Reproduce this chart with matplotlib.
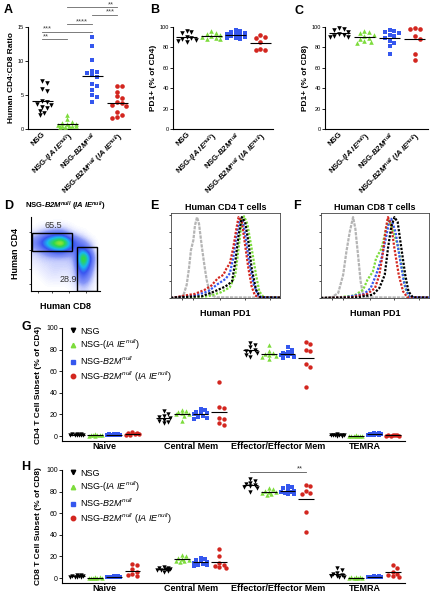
import numpy as np
import matplotlib
matplotlib.use('Agg')
import matplotlib.pyplot as plt
from matplotlib.colors import LinearSegmentedColormap
from matplotlib.patches import Rectangle
from matplotlib.lines import Line2D

plt.rcParams['font.family'] = ['Liberation Sans', 'DejaVu Sans']
plt.rcParams['mathtext.fontset'] = 'custom'
plt.rcParams['mathtext.rm'] = 'Liberation Sans'
plt.rcParams['mathtext.it'] = 'Liberation Sans:italic'
plt.rcParams['mathtext.bf'] = 'Liberation Sans:bold:italic'

W, H = 444, 594

# group names (bold italic for tick labels, plain italic for legends)
tick_names = ['NSG', r'NSG-($\mathbf{IA\ IE^{null}}$)', r'NSG-$\mathbf{B2M^{null}}$',
              r'NSG-$\mathbf{B2M^{null}}$ ($\mathbf{IA\ IE^{null}}$)']
legend_names = ['NSG', r'NSG-($\mathit{IA\ IE^{null}}$)', r'NSG-$\mathit{B2M^{null}}$',
                r'NSG-$\mathit{B2M^{null}}$ ($\mathit{IA\ IE^{null}}$)']
colors = ['black', '#7ddc3c', '#3557ee', '#d3261f']
markers = ['v', '^', 's', 'o']

# panel A: human CD4:CD8 ratio
ratio_nsg = [7.0, 6.7, 5.9, 5.6, 4.1, 3.9, 3.7, 3.5, 3.3, 3.1, 2.7, 2.3, 2.0]
ratio_ia = [2.1, 1.4, 1.1, 0.9, 0.8, 0.7, 0.6, 0.5, 0.5, 0.4, 0.4, 0.3, 0.3]
ratio_b2m = [13.5, 12.2, 10.2, 8.6, 8.4, 8.2, 7.9, 7.6, 6.6, 6.3, 5.8, 5.0, 4.7, 4.0]
ratio_dko = [6.3, 6.3, 5.5, 4.8, 4.6, 3.9, 3.8, 3.6, 3.4, 2.5, 2.1, 1.8, 1.6]
# (group i, group j, label) for significance bars
ratio_sig = [(0, 1, '**'), (0, 2, '***'), (1, 2, '****'), (2, 3, '***'), (1, 3, '**')]

# panel B: PD1+ % of CD4
pd1_cd4_nsg = [96, 95, 94, 90, 89, 88, 87, 86, 85]
pd1_cd4_ia = [96, 94, 93, 92, 91, 90, 89, 88, 88]
pd1_cd4_b2m = [97, 96, 95, 94, 93, 93, 92, 91, 90, 89, 89, 88]
pd1_cd4_dko = [92, 90, 89, 85, 78, 77, 77]

# panel C: PD1+ % of CD8
pd1_cd8_nsg = [99, 98, 97, 95, 93, 92, 91, 90, 90]
pd1_cd8_ia = [96, 95, 94, 92, 91, 89, 88, 86, 85, 84]
pd1_cd8_b2m = [97, 96, 95, 94, 92, 91, 89, 86, 84, 81, 74]
pd1_cd8_dko = [99, 98, 98, 91, 88, 74, 68]

# panel D: flow density (coarse levels, rows from bottom to top, CD8 on x, CD4 on y)
flow_density = [
    [0, 0, 0, 0, 0, 0, 0.2, 0.6, 0.3, 0],
    [0, 0, 0.2, 0.2, 0.2, 0.2, 0.5, 2.0, 0.8, 0],
    [0, 0.2, 0.3, 0.4, 0.3, 0.3, 0.6, 3.5, 1.5, 0],
    [0.2, 0.3, 0.4, 0.5, 0.5, 0.5, 0.7, 6, 2.5, 0],
    [0.3, 0.5, 0.6, 0.6, 0.6, 0.6, 1.0, 8.5, 3.5, 0],
    [0.6, 1.2, 2, 3, 3, 2, 1.8, 3.5, 1.5, 0],
    [1.5, 3, 5.5, 7.5, 9, 5, 2.5, 1.5, 0.6, 0],
    [0.6, 1.2, 2, 2.5, 2.5, 1.2, 0.6, 0.3, 0, 0],
    [0, 0.2, 0.3, 0.4, 0.4, 0.2, 0, 0, 0, 0],
    [0, 0, 0, 0, 0, 0, 0, 0, 0, 0],
]
gate_cd4 = (1, 54, 59, 25)  # x, y, w, h
gate_cd8 = (67, 0, 29, 59)
gate_cd4_pct = '65.5'
gate_cd8_pct = '28.9'

# panels E/F: PD1 histograms (channel %, % of max)
cd4_iso_x = [0, 6.7, 11.3, 14.4, 16.5, 18.3, 20.5, 22, 23.9, 25.7, 28.1, 30.6, 32.7, 34.9, 37.3, 41.9, 100]
cd4_iso_y = [0, 0.8, 3, 16, 36, 58, 70, 88, 98, 90, 64, 40, 22, 10, 3, 0.8, 0.5]
cd4_dko_x = [0, 3.7, 12.8, 22, 31, 37, 43, 48, 51, 54, 57, 60, 62, 65, 68, 71, 74, 77, 82, 100]
cd4_dko_y = [0, 0.8, 3, 5, 10, 15, 24, 28, 36, 42, 60, 84, 98, 92, 64, 36, 14, 3, 0.8, 0.5]
cd4_b2m_x = [0, 4, 22, 34, 43, 50, 54, 57, 60, 63, 66, 69, 72, 76, 80, 83, 100]
cd4_b2m_y = [0, 0.8, 3, 8, 17, 23, 30, 48, 76, 96, 92, 68, 40, 16, 3, 0.8, 0.5]
cd4_nsg_x = [0, 4, 28, 40, 50, 56, 59, 62, 65, 68, 71, 74, 78, 82, 100]
cd4_nsg_y = [0, 0.8, 2, 8, 14, 20, 44, 76, 98, 92, 68, 36, 10, 0.8, 0.5]
cd4_ia_x = [0, 10, 34, 46, 54, 59, 62, 65, 67, 70, 74, 78, 81, 85, 100]
cd4_ia_y = [0, 0.8, 2, 7, 13, 28, 60, 94, 99, 90, 60, 28, 8, 0.8, 0.5]

cd8_iso_x = [0, 9.8, 15.9, 20.5, 23.5, 26.6, 29.7, 31.8, 34.3, 36.7, 38.8, 41.9, 100]
cd8_iso_y = [0, 0.8, 6, 28, 56, 80, 98, 84, 52, 20, 5, 0.8, 0.5]
cd8_ia_x = [0, 16, 31, 39, 43, 48, 51, 56, 59, 62, 63, 66, 71, 75, 78, 82, 100]
cd8_ia_y = [0, 0.8, 3, 10, 22, 32, 48, 60, 76, 92, 94, 84, 64, 36, 12, 0.8, 0.5]
cd8_b2m_x = [0, 22, 40, 46, 51, 56, 60, 63, 65, 69, 73, 77, 81, 83, 100]
cd8_b2m_y = [0, 0.8, 5, 12, 28, 48, 72, 92, 96, 80, 48, 18, 3, 0.8, 0.5]
cd8_dko_x = [0, 28, 43, 50, 54, 57, 60, 62, 65, 68, 72, 76, 80, 100]
cd8_dko_y = [0, 0.8, 5, 12, 28, 52, 84, 98, 88, 60, 28, 8, 0.8, 0.5]
cd8_nsg_x = [0, 34, 48, 54, 59, 62, 65, 68, 71, 74, 78, 81, 85, 100]
cd8_nsg_y = [0, 0.8, 4, 12, 28, 60, 86, 98, 92, 64, 28, 8, 0.8, 0.5]

# panels G/H: T cell subsets
subsets = ['Naive', 'Central Mem', 'Effector/Effector Mem', 'TEMRA']
cd4_nsg = [[2.0, 1.8, 1.5, 1.2, 1.0, 0.9, 0.8, 0.6, 0.5],
           [23, 20, 19, 18, 17, 15, 14, 13, 12],
           [86, 84, 82, 80, 79, 78, 77, 75, 73],
           [1.5, 1.2, 1.0, 0.9, 0.8, 0.6, 0.5, 0.4, 0.3]]
cd4_ia = [[1.5, 1.2, 1.0, 0.8, 0.7, 0.5, 0.4, 0.3],
          [24, 23, 22, 21, 20, 20, 19, 14],
          [84, 79, 77, 76, 75, 74, 73, 71],
          [0.5, 0.4, 0.3, 0.3, 0.2, 0.2, 0.1, 0.1]]
cd4_b2m = [[2.0, 1.8, 1.6, 1.5, 1.3, 1.2, 1.0, 0.9, 0.8, 0.7],
           [25, 24, 22, 21, 21, 20, 19, 18, 17, 16],
           [82, 80, 78, 77, 76, 76, 75, 74, 73, 72],
           [3.0, 2.5, 2.2, 2.0, 1.8, 1.5, 1.2, 1.0, 0.8, 0.6]]
cd4_dko = [[3.5, 3.0, 2.5, 2.0, 1.5, 1.0, 0.8],
           [50, 27, 26, 17, 16, 12, 10],
           [87, 85, 80, 79, 67, 64, 45],
           [1.0, 0.8, 0.6, 0.5, 0.4, 0.3, 0.2]]

cd8_nsg = [[3.0, 2.5, 2.0, 1.8, 1.5, 1.2, 1.0, 0.8, 0.5],
           [10, 9.5, 9, 8.5, 8, 7.5, 7, 6.5, 6],
           [92, 90, 88, 87, 86, 85, 84, 83, 80],
           [9, 7, 5, 4, 3, 2, 1.5, 1, 0.8]]
cd8_ia = [[0.6, 0.5, 0.4, 0.3, 0.3, 0.2, 0.2, 0.1],
          [21, 20, 19, 18, 17, 16, 16, 15],
          [83, 82, 81, 80, 80, 79, 78, 77],
          [1.0, 0.6, 0.5, 0.4, 0.3, 0.2, 0.2, 0.1]]
cd8_b2m = [[1.8, 1.5, 1.4, 1.3, 1.2, 1.0, 0.9, 0.8, 0.7, 0.6],
           [19, 18, 17, 16, 15, 14, 13, 12, 12, 11],
           [85, 84, 83, 82, 81, 80, 80, 79, 78, 78],
           [1.8, 1.5, 1.3, 1.2, 1.0, 0.9, 0.8, 0.7, 0.6, 0.5]]
cd8_dko = [[13, 12, 8, 6, 4, 3, 2],
           [27, 20, 14, 12, 11, 10, 9],
           [86, 85, 81, 79, 78, 61, 43],
           [12, 9, 6, 4, 3, 2, 1]]


def box(x0, y0, x1, y1):
    return [x0 / W, 1 - y1 / H, (x1 - x0) / W, (y1 - y0) / H]


def ftext(fig, x, y, s, **kw):
    fig.text(x / W, 1 - y / H, s, **kw)


def swarm(vals, px_y, px_x, size=4.0, max_px=10):
    # beeswarm with a width cap: points pile up (overlap) when the column is full
    vals = np.asarray(vals, float)
    offs = np.zeros(len(vals))
    placed = []
    steps = np.arange(0, max_px + 0.01, size * 0.55)
    cands = [0.0]
    for s in steps[1:]:
        cands += [s, -s]
    for i in np.argsort(-vals):
        y = vals[i] * px_y
        best, best_d = 0.0, -1
        for c in cands:
            d = min([np.hypot(c - px, y - py) for px, py in placed] or [99])
            if d >= size:
                best = c
                break
            if d > best_d:
                best, best_d = c, d
        placed.append((best, y))
        offs[i] = best / px_x
    return offs


def prism_axes(ax, ymax, yticks):
    for s in ['top', 'right']:
        ax.spines[s].set_visible(False)
    for s in ['left', 'bottom']:
        ax.spines[s].set_linewidth(0.8)
    ax.set_ylim(0, ymax)
    ax.set_yticks(yticks)
    ax.tick_params(axis='y', labelsize=4, length=2, width=0.6, pad=1)
    ax.tick_params(axis='x', length=0, pad=1)


def column_plot(ax, data, ymax, yticks, ylabel, px_y):
    for i, vals in enumerate(data):
        off = swarm(vals, px_y, 25, size=4.2, max_px=11)
        ax.scatter(i + off, vals, s=11, marker=markers[i], color=colors[i],
                   linewidths=0, clip_on=False, zorder=3)
        ax.hlines(np.mean(vals), i - 0.42, i + 0.42, color='black', lw=0.8, zorder=4)
    ax.set_xlim(-0.56, 3.52)
    prism_axes(ax, ymax, yticks)
    ax.set_xticks(range(4))
    ax.set_xticklabels(tick_names, rotation=45, ha='right', rotation_mode='anchor',
                       fontsize=5.6, fontweight='bold')
    ax.set_ylabel(ylabel, fontsize=6, fontweight='bold', labelpad=2)


fig = plt.figure(figsize=(W / 100, H / 100), dpi=100)

# ---- A ----
axA = fig.add_axes(box(28, 27, 130, 129))
column_plot(axA, [ratio_nsg, ratio_ia, ratio_b2m, ratio_dko], 15, [0, 5, 10, 15],
            'Human CD4:CD8 Ratio', 6.8)
sig_y = [13.2, 14.3, 15.4, 16.8, 17.9]
sig_tx = [0.15, 0.2, 1.6, 2.75, 2.75]
for (i, j, lab), y, tx in zip(ratio_sig, sig_y, sig_tx):
    axA.plot([i, j], [y, y], color='#666666', lw=0.6, clip_on=False)
    axA.text(tx, y - 0.15, lab, fontsize=5.5, ha='center', va='bottom', color='#444444')

# ---- B ----
axB = fig.add_axes(box(173, 27, 273, 129))
column_plot(axB, [pd1_cd4_nsg, pd1_cd4_ia, pd1_cd4_b2m, pd1_cd4_dko], 100,
            [0, 20, 40, 60, 80, 100], 'PD1+ (% of CD4)', 1.02)

# ---- C ----
axC = fig.add_axes(box(325, 27, 428, 129))
column_plot(axC, [pd1_cd8_nsg, pd1_cd8_ia, pd1_cd8_b2m, pd1_cd8_dko], 100,
            [0, 20, 40, 60, 80, 100], 'PD1+ (% of CD8)', 1.02)

# ---- D ----
axD = fig.add_axes(box(31, 217, 100, 291))
flow_cmap = LinearSegmentedColormap.from_list(
    'flow', [(0, '#ffffff'), (0.03, '#e6e9ff'), (0.12, '#8796f8'), (0.3, '#3a55f0'),
             (0.45, '#19b8f0'), (0.62, '#2fd84a'), (0.8, '#f0ee20'), (1, '#ff3010')])
axD.imshow(np.array(flow_density), origin='lower', extent=[0, 100, 0, 100],
           cmap=flow_cmap, vmin=0, vmax=9, interpolation='bicubic', aspect='auto')
for g in (gate_cd4, gate_cd8):
    axD.add_patch(Rectangle((g[0], g[1]), g[2], g[3], fill=False, ec='black', lw=1.0))
axD.text(32, 88, gate_cd4_pct, fontsize=6.5, ha='center', va='center', color='#333333')
axD.text(54, 16, gate_cd8_pct, fontsize=6.5, ha='center', va='center', color='#333333')
axD.set_xlim(0, 100)
axD.set_ylim(0, 100)
for s in ['top', 'right']:
    axD.spines[s].set_visible(False)
axD.set_xticks([10, 30, 55, 80])
axD.set_yticks([10, 30, 55, 80])
axD.set_xticklabels([])
axD.set_yticklabels([])
axD.tick_params(length=1.5, width=0.5)
axD.set_xlabel('Human CD8', fontsize=6.5, fontweight='bold', labelpad=3)
axD.set_ylabel('Human CD4', fontsize=6.5, fontweight='bold', labelpad=3)
axD.set_title(r'NSG-$\mathbf{B2M^{null}}$ ($\mathbf{IA\ IE^{null}}$)', fontsize=5.5,
              fontweight='bold', pad=6)


def hist_panel(ax, curves, title):
    for x, y, c, ls in curves:
        ax.plot(x, y, color=c, lw=1.6, ls=ls)
    ax.set_xlim(0, 100)
    ax.set_ylim(0, 103)
    ax.set_xticks([10, 20, 45, 68, 91])
    ax.set_yticks([0, 20, 40, 60, 80, 100])
    ax.set_xticklabels([])
    ax.set_yticklabels([])
    ax.tick_params(length=1.5, width=0.5, direction='out')
    for s in ax.spines.values():
        s.set_linewidth(0.6)
        s.set_color('#444444')
    ax.set_title(title, fontsize=6.5, fontweight='bold', pad=2)
    ax.set_xlabel('Human PD1', fontsize=6.5, fontweight='bold', labelpad=3)


dash = (0, (1.0, 0.7))
axE = fig.add_axes(box(171, 213, 280, 298))
hist_panel(axE, [(cd4_iso_x, cd4_iso_y, '#b5b5b5', (0, (1.5, 0.5))),
                 (cd4_ia_x, cd4_ia_y, colors[1], dash),
                 (cd4_b2m_x, cd4_b2m_y, colors[2], dash),
                 (cd4_dko_x, cd4_dko_y, colors[3], dash),
                 (cd4_nsg_x, cd4_nsg_y, 'black', dash)], 'Human CD4 T cells')

axF = fig.add_axes(box(321, 213, 429, 298))
hist_panel(axF, [(cd8_iso_x, cd8_iso_y, '#b5b5b5', (0, (1.5, 0.5))),
                 (cd8_ia_x, cd8_ia_y, colors[1], dash),
                 (cd8_b2m_x, cd8_b2m_y, colors[2], dash),
                 (cd8_dko_x, cd8_dko_y, colors[3], dash),
                 (cd8_nsg_x, cd8_nsg_y, 'black', dash)], 'Human CD8 T cells')


def subset_panel(ax, series, ylabel):
    offsets = [-0.32, -0.107, 0.107, 0.32]
    for k, (grp, off) in enumerate(zip(series, offsets)):
        for c, vals in enumerate(grp):
            sw = swarm(vals, 1.08, 87, size=4.0, max_px=7)
            ax.scatter(c + off + sw, vals, s=10, marker=markers[k], color=colors[k],
                       linewidths=0, zorder=3, clip_on=False)
            ax.hlines(np.mean(vals), c + off - 0.09, c + off + 0.09, color='black',
                      lw=0.8, zorder=4)
    ax.set_xlim(-0.49, 3.46)
    prism_axes(ax, 100, [0, 20, 40, 60, 80, 100])
    ax.set_ylim(-4.6, 100)
    ax.spines['left'].set_bounds(-4.6, 100)
    ax.tick_params(axis='y', labelsize=5)
    ax.set_xticks(range(4))
    ax.set_xticklabels(subsets, fontsize=6.5, fontweight='bold')
    ax.set_ylabel(ylabel, fontsize=6, fontweight='bold', labelpad=3)
    handles = [Line2D([], [], ls='none', marker=markers[k], color=colors[k], markersize=3.2)
               for k in range(4)]
    ax.legend(handles, legend_names, loc='upper left', bbox_to_anchor=(0.0, 1.06),
              frameon=False, fontsize=6.5, handletextpad=0.2, labelspacing=0.25,
              borderaxespad=0.2, handlelength=1.2)


axG = fig.add_axes(box(62, 328, 405, 441))
subset_panel(axG, [cd4_nsg, cd4_ia, cd4_b2m, cd4_dko], 'CD4 T Cell Subset (% of CD4)')

axH = fig.add_axes(box(62, 470, 405, 583))
subset_panel(axH, [cd8_nsg, cd8_ia, cd8_b2m, cd8_dko], 'CD8 T Cell Subset (% of CD8)')
axH.plot([2 - 0.32, 2 + 0.32], [98, 98], color='#555555', lw=0.6, clip_on=False)
axH.text(2 + 0.25, 98, '**', fontsize=5.5, ha='center', va='bottom', color='#333333')

# panel letters
for lab, x, y in [('A', 4, 10), ('B', 150, 10), ('C', 294, 11), ('D', 4, 206),
                  ('E', 150, 206), ('F', 293, 206), ('G', 21, 327), ('H', 21, 467)]:
    ftext(fig, x, y, lab, fontsize=9, fontweight='bold', va='center', ha='left')

fig.savefig('out.png', dpi=100)
